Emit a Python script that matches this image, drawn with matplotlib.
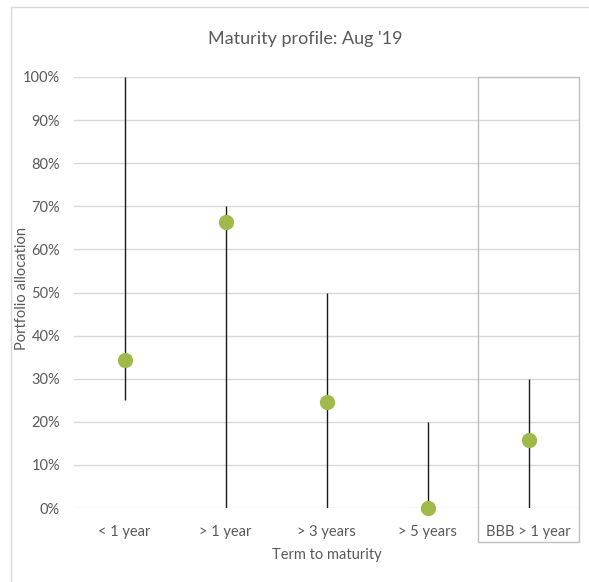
import matplotlib
matplotlib.use("Agg")
import matplotlib.pyplot as plt
from matplotlib.patches import Rectangle
import numpy as np

categories = ["< 1 year", "> 1 year", "> 3 years", "> 5 years", "BBB > 1 year"]
range_low = [0.25, 0.0, 0.0, 0.0, 0.0]
range_high = [1.00, 0.70, 0.50, 0.20, 0.30]
current = [0.343, 0.663, 0.247, 0.0, 0.157]
yticks = [0, 0.1, 0.2, 0.3, 0.4, 0.5, 0.6, 0.7, 0.8, 0.9, 1.0]
ytick_labels = ["0%", "10%", "20%", "30%", "40%", "50%", "60%", "70%", "80%", "90%", "100%"]

plt.rcParams['font.family'] = ['Lato', 'DejaVu Sans']
text_color = "#595959"
grid_color = "#d9d9d9"
dot_color = "#9fba4a"

W, H = 589, 582
fig = plt.figure(figsize=(W / 100, H / 100), dpi=100)

# outer chart border
fig.patches.append(Rectangle((11 / W, -0.05), 1.2, 1 - 7 / H + 0.05,
                             transform=fig.transFigure, fill=False,
                             edgecolor=grid_color, linewidth=1.0))

left, right = 74 / W, 579 / W
bottom, top = 1 - 508 / H, 1 - 77 / H
ax = fig.add_axes([left, bottom, right - left, top - bottom])
ax.set_facecolor("none")

x = np.arange(len(categories))
ax.set_xlim(-0.5, len(categories) - 0.5)
ax.set_ylim(0, 1.0)

ax.set_yticks(yticks)
ax.set_yticklabels(ytick_labels)
ax.set_xticks(x)
ax.set_xticklabels(categories)
ax.tick_params(axis='both', length=0, labelsize=10.5, colors=text_color)
ax.tick_params(axis='y', pad=10)
ax.tick_params(axis='x', pad=12)
for sp in ax.spines.values():
    sp.set_visible(False)
ax.yaxis.grid(True, color=grid_color, linewidth=1.0)
ax.set_axisbelow(True)

ax.vlines(x, range_low, range_high, color="#1a1a1a", linewidth=1.0, zorder=3)
ax.plot(x, current, linestyle="none", marker="o", markersize=11,
        color=dot_color, markeredgewidth=0, zorder=4, clip_on=False)

# highlight box around the last category
ax.add_patch(Rectangle((3.5, -34 / 431), 1.0, 1.0 + 34 / 431, fill=False,
                       edgecolor="#bfbfbf", linewidth=1.0, clip_on=False, zorder=2))

ax.set_ylabel("Portfolio allocation", fontsize=10.5, color=text_color)
ax.yaxis.set_label_coords((29 - 74) / 505, 0.51)
ax.set_xlabel("Term to maturity", fontsize=10.5, color=text_color, labelpad=7)

fig.text(305 / W, 1 - 39 / H, "Maturity profile: Aug '19", ha="center", va="center",
         fontsize=13, color=text_color)

fig.savefig("out.png", dpi=100, facecolor="white")
